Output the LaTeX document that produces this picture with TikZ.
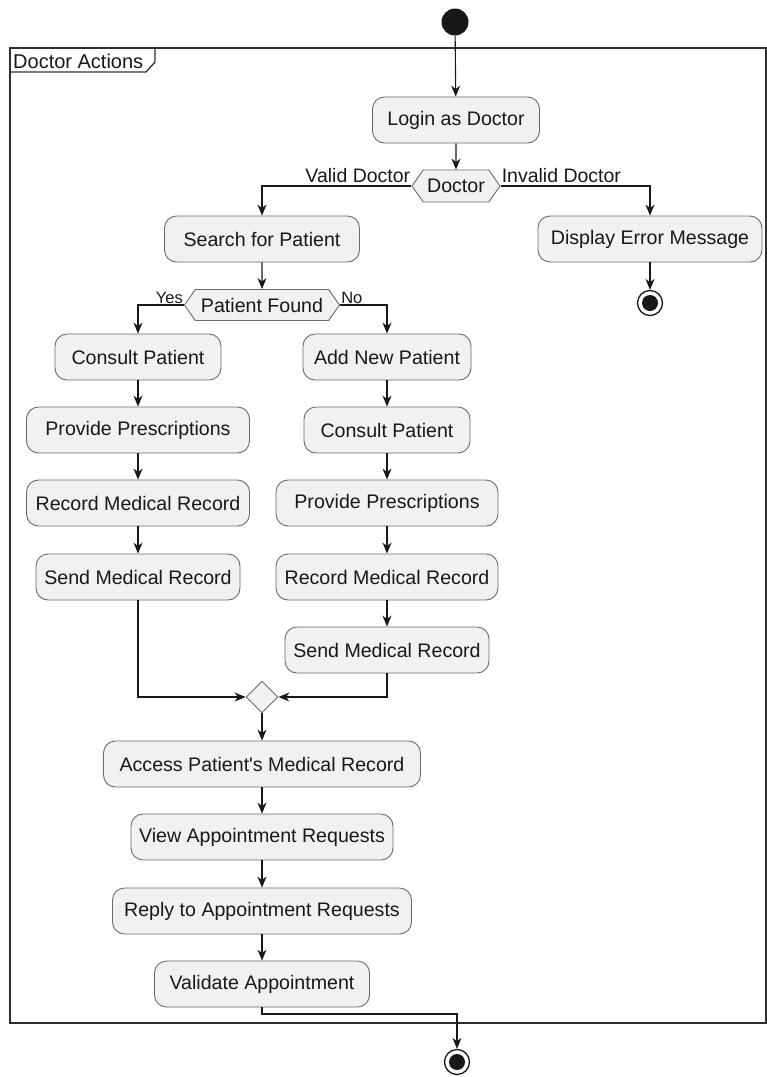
\documentclass[tikz,border=0pt]{standalone}
\usepackage{fontspec}
\setmainfont{Liberation Sans}
\usetikzlibrary{arrows.meta,shapes.symbols,shapes.geometric}
\definecolor{boxfill}{HTML}{F1F1F1}
\definecolor{boxline}{HTML}{6A6A6A}
\definecolor{ink}{HTML}{181818}
\tikzset{
  act/.style={draw=boxline, line width=0.9pt, fill=boxfill, rounded corners=12pt,
    minimum height=46pt, inner sep=0pt, font=\fontsize{19.6}{22}\selectfont, text=ink},
  hexa/.style={draw=boxline, line width=0.9pt, fill=boxfill, signal, signal to=east and west,
    signal pointer angle=110, minimum height=32pt, inner sep=2pt, font=\fontsize{19.6}{22}\selectfont, text=ink},
  flow/.style={draw=ink, line width=1.1pt, -{Stealth[length=11pt,width=9pt,inset=3.5pt]}},
  lbl/.style={font=\fontsize{19.5}{21}\selectfont, text=ink, inner sep=1pt},
  startnode/.style={circle, fill=ink, minimum size=27pt, inner sep=0pt},
  endnode/.style={circle, draw=ink, line width=1.3pt, fill=white, minimum size=25pt, inner sep=0pt,
    path picture={\fill[ink] (path picture bounding box.center) circle (8pt);}},
  merge/.style={diamond, draw=boxline, line width=0.9pt, fill=boxfill, minimum width=32pt, minimum height=32pt, inner sep=0pt},
}
\begin{document}
\begin{tikzpicture}[x=1pt,y=-1pt]
\useasboundingbox (0,0) rectangle (767,1077);
% frame
\draw[ink!90, line width=1.8pt] (10,48) rectangle (766,1023);
\draw[ink!90, line width=1.3pt] (10,72) -- (146,72) -- (155,62) -- (155,48);
\node[anchor=west, inner sep=0pt, font=\fontsize{20}{22}\selectfont, text=ink] (framelabel) at (13,61) {Doctor Actions};

\node[startnode] (start) at (455,22) {};
\node[act, minimum width=167pt] (login) at (456,120) {Login as Doctor};
\node[hexa, minimum width=88pt] (doc) at (456,186) {Doctor};
\node[act, minimum width=195pt] (search) at (262,239) {Search for Patient};
\node[act, minimum width=224pt] (err) at (650,239) {Display Error Message};
\node[endnode] (end1) at (650,303) {};
\node[hexa, minimum width=155pt, minimum height=31pt] (pf) at (262,305) {Patient Found};

\node[act, minimum width=166pt] (c1) at (138,357) {Consult Patient};
\node[act, minimum width=223pt] (p1) at (138,430) {Provide Prescriptions};
\node[act, minimum width=223pt] (r1) at (138,503) {Record Medical Record};
\node[act, minimum width=204pt] (s1) at (138,577) {Send Medical Record};

\node[act, minimum width=168pt] (add) at (387,357) {Add New Patient};
\node[act, minimum width=166pt] (c2) at (387,430) {Consult Patient};
\node[act, minimum width=222pt] (p2) at (387,503) {Provide Prescriptions};
\node[act, minimum width=222pt] (r2) at (387,577) {Record Medical Record};
\node[act, minimum width=204pt] (s2) at (387,650) {Send Medical Record};

\node[merge] (mg) at (262,697) {};
\node[act, minimum width=317pt] (acc) at (262,764) {Access Patient\textquotesingle s Medical Record};
\node[act, minimum width=262pt] (view) at (262,837) {View Appointment Requests};
\node[act, minimum width=299pt] (reply) at (262,911) {Reply to Appointment Requests};
\node[act, minimum width=215pt] (valid) at (262,984) {Validate Appointment};
\node[endnode] (end2) at (457,1062) {};

% connectors
\draw[flow] (start) -- (login);
\draw[flow] (login) -- (doc);
\draw[flow] (doc.west) -| (search.north);
\node[lbl, anchor=south east] (lvalid) at (doc.west |- 0,184) {Valid Doctor};
\draw[flow] (doc.east) -| (err.north);
\node[lbl, anchor=south west] (linvalid) at (doc.east |- 0,184) {Invalid Doctor};
\draw[flow] (err) -- (end1);
\draw[flow] (search) -- (pf);
\draw[flow] (pf.west) -| (c1.north);
\node[lbl, anchor=south east, font=\fontsize{16.5}{18}\selectfont] (lyes) at (pf.west) {Yes};
\draw[flow] (pf.east) -| (add.north);
\node[lbl, anchor=south west, font=\fontsize{16.5}{18}\selectfont] (lno) at (pf.east) {No};

\draw[flow] (c1) -- (p1);
\draw[flow] (p1) -- (r1);
\draw[flow] (r1) -- (s1);
\draw[flow] (add) -- (c2);
\draw[flow] (c2) -- (p2);
\draw[flow] (p2) -- (r2);
\draw[flow] (r2) -- (s2);

\draw[flow] (s1.south) |- (mg.west);
\draw[flow] (s2.south) |- (mg.east);
\draw[flow] (mg) -- (acc);
\draw[flow] (acc) -- (view);
\draw[flow] (view) -- (reply);
\draw[flow] (reply) -- (valid);
\coordinate (vbend) at (262,1014);
\draw[flow] (valid.south) -- (vbend) -| (end2.north);
\end{tikzpicture}
\end{document}
